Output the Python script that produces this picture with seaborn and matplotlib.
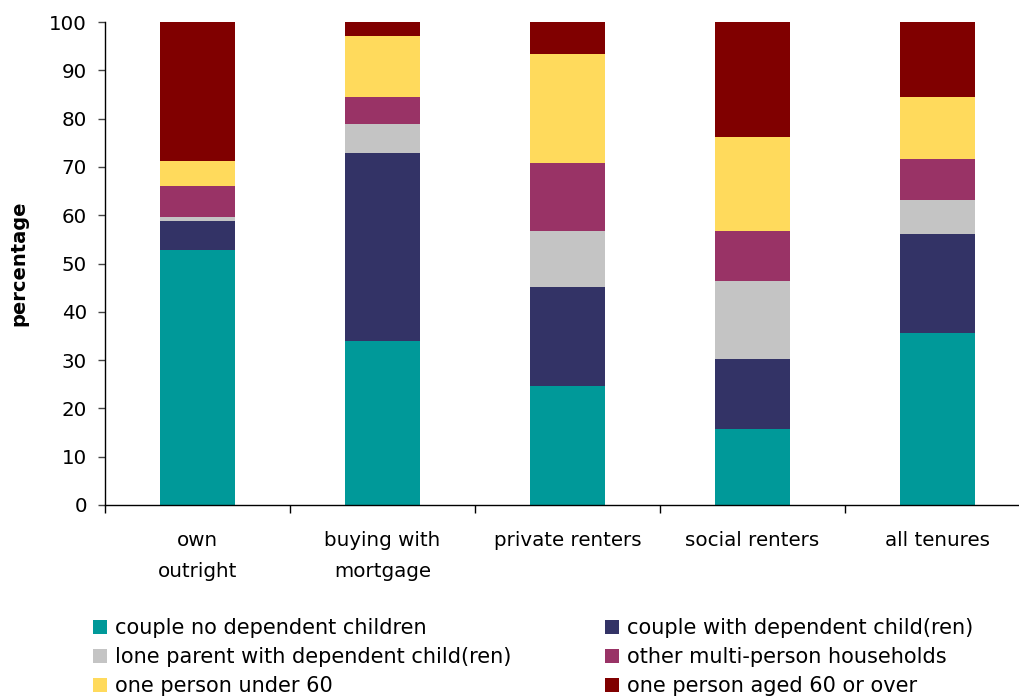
import numpy as np
import pandas as pd
import matplotlib
matplotlib.use("Agg")
import matplotlib.pyplot as plt
from matplotlib.patches import Patch
from matplotlib.ticker import FixedLocator
import seaborn as sns

# Tenure groups along the x axis
tenures = ["own\noutright", "buying with\nmortgage", "private renters",
           "social renters", "all tenures"]

# Household composition shares (percent), bottom to top of each stack
couple_no_children = [52.8, 34.0, 24.7, 15.8, 35.6]
couple_with_children = [6.0, 38.9, 20.5, 14.5, 20.5]
lone_parent = [0.8, 6.0, 11.6, 16.0, 7.1]
other_multi_person = [6.5, 5.6, 14.1, 10.5, 8.5]
one_person_under_60 = [5.2, 12.5, 22.5, 19.3, 12.8]
one_person_60_plus = [28.7, 3.0, 6.6, 23.9, 15.5]

series_names = [
    "couple no dependent children",
    "couple with dependent child(ren)",
    "lone parent with dependent child(ren)",
    "other multi-person households",
    "one person under 60",
    "one person aged 60 or over",
]
series_values = [couple_no_children, couple_with_children, lone_parent,
                 other_multi_person, one_person_under_60, one_person_60_plus]
colors = ["#009999", "#333366", "#C4C4C4", "#993366", "#FFDA5C", "#800000"]

y_ticks = list(range(0, 101, 10))

sns.set_style("white")
plt.rcParams["font.family"] = ["DejaVu Sans"]
plt.rcParams["text.color"] = "black"
plt.rcParams["axes.labelcolor"] = "black"

fig = plt.figure(figsize=(10.2, 6.97), dpi=100)
ax = fig.add_axes([105 / 1020, 192 / 697, 925 / 1020, 483 / 697])

# Cumulative tops; draw the tallest layer first so lower layers sit over it
tops = np.cumsum(np.array(series_values), axis=0)
for i in range(len(series_names) - 1, -1, -1):
    df = pd.DataFrame({"tenure": tenures, "top": tops[i]})
    sns.barplot(data=df, x="tenure", y="top", order=tenures, color=colors[i],
                width=0.405, edgecolor="none", linewidth=0, saturation=1,
                errorbar=None, ax=ax)

ax.set_xlim(-0.5, len(tenures) - 0.5)
ax.set_ylim(0, 100)
ax.set_yticks(y_ticks)
ax.set_xlabel("")
ax.set_ylabel("percentage", fontsize=14, fontweight="bold", labelpad=15,
              color="black")

for side in ["top", "right"]:
    ax.spines[side].set_visible(False)
for side in ["left", "bottom"]:
    ax.spines[side].set_color("black")
    ax.spines[side].set_linewidth(1.0)

ax.tick_params(axis="y", direction="out", length=5, width=1, color="#444444",
               pad=8, labelsize=14.3, labelcolor="black", left=True)
ax.tick_params(axis="x", which="major", length=0, pad=19, labelsize=14.3,
               labelcolor="black")
ax.xaxis.set_minor_locator(FixedLocator(np.arange(-0.5, len(tenures), 1.0)))
ax.tick_params(axis="x", which="minor", direction="out", length=6, width=1,
               color="black", bottom=True)
for lab in ax.get_xticklabels():
    lab.set_linespacing(1.75)
    lab.set_verticalalignment("top")

# Legend in two columns, filled row by row
handles = [Patch(facecolor=c, edgecolor="none") for c in colors]
legend_kw = dict(frameon=False, fontsize=15, handlelength=0.65,
                 handleheight=0.65, handletextpad=0.4, labelspacing=0.44,
                 borderpad=0, borderaxespad=0, loc="upper left",
                 labelcolor="black")
left_idx = [0, 2, 4]
right_idx = [1, 3, 5]
leg1 = fig.legend([handles[i] for i in left_idx],
                  [series_names[i] for i in left_idx],
                  bbox_to_anchor=(93 / 1020, 1 - 618 / 697), **legend_kw)
leg2 = fig.legend([handles[i] for i in right_idx],
                  [series_names[i] for i in right_idx],
                  bbox_to_anchor=(605 / 1020, 1 - 618 / 697), **legend_kw)

fig.savefig("out.png", dpi=100)
